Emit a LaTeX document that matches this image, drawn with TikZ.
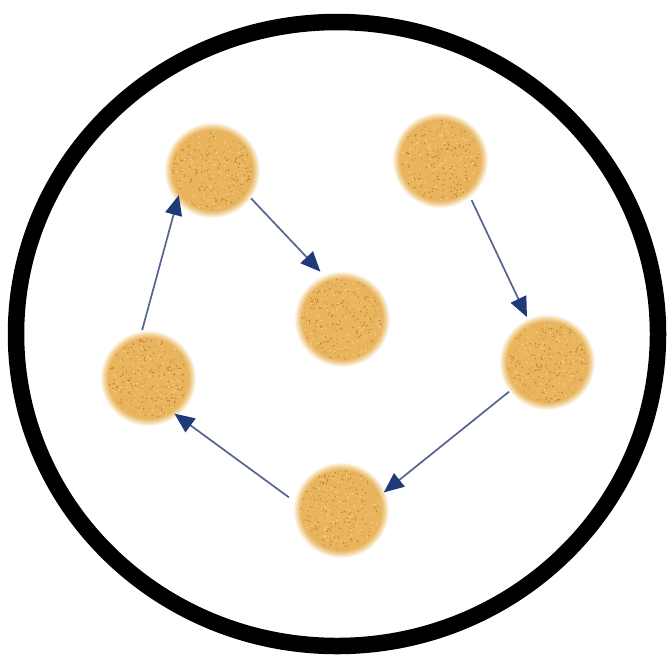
\documentclass[tikz,border=0pt]{standalone}
\usetikzlibrary{arrows.meta}
\definecolor{blobc}{HTML}{E9B45E}
\definecolor{blobedge}{HTML}{F3D7A4}
\definecolor{speck1}{HTML}{A86F22}
\definecolor{speck2}{HTML}{F8DCA0}
\definecolor{speck3}{HTML}{D4923A}
\definecolor{headc}{HTML}{1E3A78}
\definecolor{linec}{HTML}{56648F}
\pgfdeclareradialshading{blobshade}{\pgfpoint{0bp}{0bp}}{%
  color(0bp)=(blobc); color(21bp)=(blobc); color(23bp)=(blobedge); color(25bp)=(white); color(50bp)=(white)}
\tikzset{
  blob/.style={circle, inner sep=0pt, minimum size=96pt, shading=blobshade},
  arr/.style={draw=linec, line width=1.7pt,
    -{Triangle[length=20pt,width=17pt,color=headc]}},
  rim/.style={draw=black, line width=16.5pt}
}
\begin{document}
\begin{tikzpicture}[x=1pt,y=-1pt]
\useasboundingbox (0,0) rectangle (668,654);
\fill[white] (0,0) rectangle (668,654);
\draw[rim] (337,334) ellipse [x radius=321pt, y radius=312pt];
\node[blob] (A) at (212,170) {};
\node[blob] (B) at (440,160) {};
\node[blob] (C) at (342,319) {};
\node[blob] (D) at (148,378) {};
\node[blob] (E) at (547,362) {};
\node[blob] (F) at (341,510) {};
\pgfmathsetseed{4242}
\foreach \nm in {A,B,C,D,E,F}{
  \foreach \i in {1,...,320}{
    \pgfmathsetmacro\ra{40*sqrt(rnd)}
    \pgfmathsetmacro\ta{360*rnd}
    \pgfmathrandominteger\kk{1}{3}
    \fill[shift={(\nm)}, color=speck\kk, opacity=0.8] (\ta:\ra) circle (0.75pt);
  }
}
\draw[arr, shorten >=4pt] (A.-36) -- (C.113);
\draw[arr, shorten <=3pt, shorten >=1pt] (B.-51) -- (E.114);
\draw[arr, shorten >=-2pt] (E.218) -- (F.23);
\draw[arr, shorten <=6pt, shorten >=-4pt] (F.169) -- (D.-52);
\draw[arr, shorten >=-8pt] (D.97) -- (A.223);
\end{tikzpicture}
\end{document}
